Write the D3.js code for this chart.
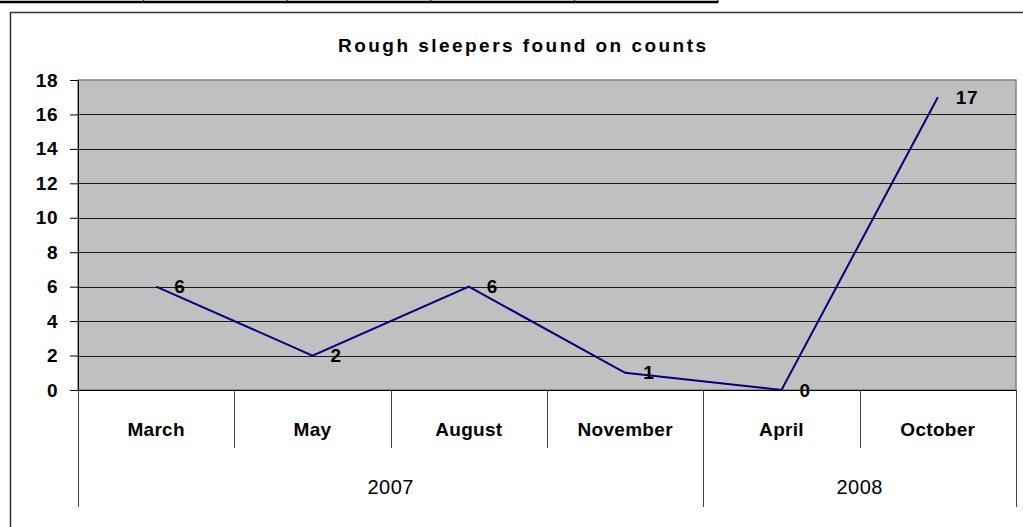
<!DOCTYPE html>
<html>
<head>
<meta charset="utf-8">
<script src="https://cdn.jsdelivr.net/npm/d3@7"></script>
<style>
  html, body { margin: 0; padding: 0; background: #fff; }
  svg { display: block; }
  text { font-family: "Liberation Sans", Arial, sans-serif; fill: #000; }
</style>
</head>
<body>
<svg id="chart" width="1023" height="527"></svg>
<script>
// Rough sleeper counts by survey month
const months = ["March", "May", "August", "November", "April", "October"];
const years  = ["2007", "2007", "2007", "2007", "2008", "2008"];
const counts = [6, 2, 6, 1, 0, 17];
const yTicks = [0, 2, 4, 6, 8, 10, 12, 14, 16, 18];
const title = "Rough sleepers found on counts";

const svg = d3.select("#chart");

// Bottom edge of the table row sitting above the chart
const tableLeft = 0, tableRight = 718, tableCells = 5;
const cellX = d3.scaleLinear().domain([0, tableCells]).range([tableLeft, tableRight]);
svg.append("line")
  .attr("x1", tableLeft).attr("x2", tableRight)
  .attr("y1", 2).attr("y2", 2)
  .attr("stroke", "#000").attr("stroke-width", 2.5);
svg.selectAll(".cellsep").data(d3.range(1, tableCells + 1)).join("line")
  .attr("x1", d => cellX(d)).attr("x2", d => cellX(d))
  .attr("y1", 0).attr("y2", 3)
  .attr("stroke", "#000").attr("stroke-width", 1);

// Chart frame
svg.append("rect")
  .attr("x", 10.5).attr("y", 12.5)
  .attr("width", 1040).attr("height", 540)
  .attr("fill", "#fff")
  .attr("stroke", "#333").attr("stroke-width", 1.5);

// Plot area
const plot = { left: 78, right: 1016, top: 80, bottom: 390 };

const x = d3.scaleBand()
  .domain(d3.range(months.length))
  .range([plot.left, plot.right])
  .paddingInner(0).paddingOuter(0);

const y = d3.scaleLinear()
  .domain([0, 18])
  .range([plot.bottom, plot.top]);

svg.append("rect")
  .attr("x", plot.left).attr("y", plot.top)
  .attr("width", plot.right - plot.left)
  .attr("height", plot.bottom - plot.top)
  .attr("fill", "#c0c0c0")
  .attr("stroke", "#808080").attr("stroke-width", 1.5);

// Horizontal gridlines
svg.append("g").selectAll("line")
  .data(yTicks.filter(t => t > 0 && t < 18)).join("line")
  .attr("x1", plot.left).attr("x2", plot.right)
  .attr("y1", d => Math.round(y(d)) + 0.5).attr("y2", d => Math.round(y(d)) + 0.5)
  .attr("stroke", "#1a1a1a").attr("stroke-width", 1);

// Value axis
const yAxis = d3.axisLeft(y)
  .tickValues(yTicks)
  .tickSize(8)
  .tickPadding(12)
  .tickFormat(d3.format("d"));
const gy = svg.append("g")
  .attr("transform", `translate(${plot.left},0)`)
  .call(yAxis);
gy.select(".domain").remove();
gy.selectAll(".tick line").attr("stroke", "#000");
gy.selectAll(".tick text")
  .attr("fill", "#000")
  .style("font-size", "19px")
  .style("font-weight", "bold")
  .style("letter-spacing", "0.5px")
  .style("font-family", "'Liberation Sans', Arial, sans-serif");

// Axis lines
svg.append("line")
  .attr("x1", plot.left + 0.5).attr("x2", plot.left + 0.5)
  .attr("y1", plot.top).attr("y2", plot.bottom)
  .attr("stroke", "#000").attr("stroke-width", 1);
svg.append("line")
  .attr("x1", plot.left).attr("x2", plot.right)
  .attr("y1", plot.bottom + 0.5).attr("y2", plot.bottom + 0.5)
  .attr("stroke", "#000").attr("stroke-width", 1);

// Category separators: short between months, long where the year changes
const boundaries = d3.range(months.length + 1).map(i => {
  const isYearEdge = i === 0 || i === months.length || years[i] !== years[i - 1];
  return { i, isYearEdge };
});
const bx = i => i < months.length ? x(i) : x(months.length - 1) + x.bandwidth();
svg.append("g").selectAll("line")
  .data(boundaries).join("line")
  .attr("x1", d => Math.round(bx(d.i)) + 0.5).attr("x2", d => Math.round(bx(d.i)) + 0.5)
  .attr("y1", plot.bottom)
  .attr("y2", d => d.isYearEdge ? 507 : 448)
  .attr("stroke", "#444").attr("stroke-width", 1);

// Month labels
svg.append("g").selectAll("text")
  .data(months).join("text")
  .attr("x", (d, i) => x(i) + x.bandwidth() / 2)
  .attr("y", 429)
  .attr("text-anchor", "middle")
  .attr("dominant-baseline", "central")
  .style("font-size", "19px")
  .style("font-weight", "bold")
  .style("letter-spacing", "0.3px")
  .text(d => d);

// Year group labels
const groups = d3.groups(d3.range(months.length), i => years[i]);
svg.append("g").selectAll("text")
  .data(groups).join("text")
  .attr("x", ([, idx]) => (x(idx[0]) + x(idx[idx.length - 1]) + x.bandwidth()) / 2)
  .attr("y", 487)
  .attr("text-anchor", "middle")
  .attr("dominant-baseline", "central")
  .style("font-size", "20px")
  .style("letter-spacing", "0.5px")
  .text(([yr]) => yr);

// Series line
const line = d3.line()
  .x((d, i) => x(i) + x.bandwidth() / 2)
  .y(d => y(d));
svg.append("path")
  .datum(counts)
  .attr("d", line)
  .attr("fill", "none")
  .attr("stroke", "#000080")
  .attr("stroke-width", 2);

// Data labels
svg.append("g").selectAll("text")
  .data(counts).join("text")
  .attr("x", (d, i) => x(i) + x.bandwidth() / 2 + 18)
  .attr("y", d => y(d))
  .attr("text-anchor", "start")
  .attr("dominant-baseline", "central")
  .style("font-size", "19px")
  .style("font-weight", "bold")
  .style("letter-spacing", "0.5px")
  .text(d => d);

// Title
svg.append("text")
  .attr("x", 522)
  .attr("y", 45)
  .attr("text-anchor", "middle")
  .attr("dominant-baseline", "central")
  .attr("textLength", 368)
  .attr("lengthAdjust", "spacing")
  .style("font-size", "19px")
  .style("font-weight", "bold")
  .text(title);
</script>
</body>
</html>
